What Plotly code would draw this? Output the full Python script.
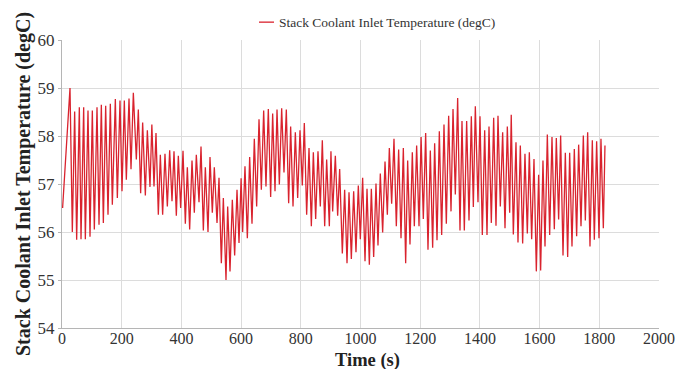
import plotly.graph_objects as go

# Stack coolant inlet temperature log: alternating trough / peak samples
time_s = [
    2.0, 26.8, 34.6, 42.4, 49.1, 58.1, 63.7, 72.6, 78.2, 87.1, 93.8, 101.6,
    108.3, 117.3, 124.0, 131.8, 138.5, 146.3, 154.1, 161.9, 168.6, 178.7,
    185.4, 194.3, 201.0, 208.8, 215.5, 224.5, 231.2, 239.0, 249.0, 255.7,
    263.5, 270.2, 279.2, 285.9, 294.8, 301.0, 308.2, 314.9, 322.7, 329.4,
    337.2, 345.0, 352.9, 360.7, 368.5, 375.2, 383.0, 389.7, 397.5, 405.4,
    413.2, 419.9, 427.7, 435.5, 443.3, 450.0, 459.0, 465.7, 473.5, 480.2,
    489.1, 495.8, 503.6, 510.3, 519.3, 526.0, 533.8, 540.5, 549.4, 555.0,
    562.8, 570.6, 578.4, 586.3, 593.0, 600.0, 605.2, 613.0, 620.9, 628.7,
    636.5, 644.3, 652.1, 660.0, 667.8, 675.6, 683.4, 691.2, 699.0, 705.7,
    713.6, 720.3, 728.1, 735.9, 743.7, 751.5, 759.3, 766.0, 773.9, 781.7,
    789.5, 797.3, 805.1, 811.8, 819.6, 827.5, 835.3, 842.0, 849.8, 857.6,
    865.4, 872.1, 880.0, 886.6, 895.6, 901.0, 906.7, 915.7, 923.5, 930.2,
    939.1, 946.9, 954.8, 961.5, 969.3, 977.1, 984.9, 992.7, 999.4, 1007.2,
    1015.1, 1021.8, 1029.6, 1036.3, 1044.1, 1051.9, 1058.6, 1066.4, 1074.2,
    1082.1, 1089.9, 1096.6, 1104.4, 1112.2, 1120.0, 1127.8, 1135.7, 1143.5,
    1151.3, 1158.0, 1165.8, 1173.6, 1180.3, 1188.1, 1196.0, 1203.0, 1210.5,
    1218.3, 1226.1, 1233.9, 1241.7, 1248.4, 1256.3, 1264.1, 1271.9, 1279.7,
    1287.5, 1295.3, 1303.2, 1309.9, 1317.7, 1325.5, 1333.3, 1340.0, 1347.8,
    1355.6, 1363.5, 1371.3, 1378.0, 1384.7, 1393.6, 1400.3, 1408.1, 1416.0,
    1423.8, 1430.5, 1438.3, 1446.1, 1453.9, 1460.6, 1468.4, 1476.2, 1484.1,
    1491.9, 1499.7, 1505.0, 1512.0, 1520.9, 1527.6, 1535.4, 1543.2, 1551.0,
    1558.9, 1565.6, 1573.4, 1581.2, 1589.0, 1596.8, 1603.5, 1611.3, 1618.1,
    1625.9, 1633.7, 1641.5, 1649.3, 1656.0, 1663.8, 1670.5, 1678.4, 1686.2,
    1694.0, 1700.7, 1708.5, 1716.3, 1724.1, 1730.8, 1738.7, 1746.5, 1753.2,
    1761.0, 1768.8, 1776.6, 1783.3, 1791.1, 1799.0, 1805.6, 1813.5, 1819.0,
]

coolant_inlet_degc = [
    56.50, 59.00, 56.00, 58.51, 55.84, 58.60, 55.85, 58.60, 55.85, 58.53, 55.90, 58.53,
    56.05, 58.60, 56.15, 58.65, 56.19, 58.63, 56.36, 58.67, 56.57, 58.77,
    56.71, 58.74, 56.85, 58.74, 57.09, 58.78, 57.31, 58.90, 57.51, 58.55,
    56.81, 58.28, 56.76, 58.12, 56.94, 58.24, 56.95, 58.06, 56.36, 57.61,
    56.36, 57.63, 56.53, 57.70, 56.64, 57.68, 56.34, 57.59, 56.50, 57.69,
    56.17, 57.35, 56.05, 57.49, 56.40, 57.61, 56.62, 57.78, 56.03, 57.35,
    56.00, 57.56, 56.40, 57.35, 56.19, 57.13, 55.35, 56.71, 55.00, 56.53,
    55.18, 56.67, 55.51, 56.88, 55.77, 57.12, 56.00, 57.37, 55.87, 57.56,
    56.17, 57.94, 56.53, 58.35, 56.88, 58.53, 56.95, 58.56, 56.73, 58.47,
    56.85, 58.55, 56.99, 58.58, 57.24, 58.55, 56.60, 58.20, 56.53, 58.08,
    56.71, 58.12, 56.97, 58.27, 56.36, 57.75, 56.12, 57.66, 56.27, 57.68,
    56.53, 57.91, 56.12, 57.51, 56.12, 57.68, 56.43, 57.59, 56.34, 57.31,
    55.55, 56.88, 55.35, 56.83, 55.44, 56.85, 55.58, 56.97, 55.85, 57.13,
    55.39, 56.90, 55.32, 56.90, 55.48, 57.01, 55.72, 57.22, 55.99,
    57.47, 56.36, 57.75, 56.59, 57.94, 56.12, 57.72, 55.87, 57.75,
    55.35, 57.49, 55.74, 57.66, 56.12, 57.80, 56.12, 57.98, 56.27,
    58.06, 55.63, 57.70, 55.67, 57.85, 55.83, 58.10, 55.94, 58.24,
    56.17, 58.42, 56.43, 58.56, 56.78, 58.79, 56.03, 58.31, 56.03,
    58.31, 56.24, 58.41, 56.52, 58.62, 56.62, 58.41, 55.94, 58.12,
    55.94, 58.20, 56.19, 58.38, 56.13, 58.42, 56.53, 58.08, 56.08,
    58.20, 56.40, 58.44, 55.95, 57.87, 55.78, 57.80, 55.76, 57.63,
    55.97, 57.66, 55.85, 57.52, 55.18, 57.19, 55.20, 57.49, 55.70,
    58.03, 55.94, 57.98, 56.06, 57.96, 56.26, 58.01, 55.51, 57.65,
    55.48, 57.65, 55.70, 57.73, 55.91, 57.82, 56.12, 58.01, 56.24,
    58.08, 55.70, 57.91, 55.84, 57.89, 55.87, 57.94, 56.08, 57.80,
]

x_ticks = [0, 200, 400, 600, 800, 1000, 1200, 1400, 1600, 1800, 2000]
y_ticks = [54, 55, 56, 57, 58, 59, 60]

series_name = "Stack Coolant Inlet Temperature (degC)"
line_color = "#d9232e"
serif = "Liberation Serif"

fig = go.Figure()
fig.add_trace(go.Scatter(
    x=time_s, y=coolant_inlet_degc, mode="lines", name=series_name,
    line=dict(color=line_color, width=1.3), showlegend=False,
))

# Legend key: short line sample and label above the plot
fig.add_shape(type="line", xref="paper", yref="paper",
              x0=(259 - 62) / 597, x1=(274 - 62) / 597, y0=1.062, y1=1.062,
              line=dict(color=line_color, width=1.3))
fig.add_annotation(text=series_name, xref="paper", yref="paper",
                   x=(277 - 62) / 597, y=1.062, xanchor="left", yanchor="middle",
                   showarrow=False, font=dict(family=serif, size=13.5, color="#333333"))

# X-axis title placed just under the tick labels
fig.add_annotation(text="<b>Time (s)</b>", xref="paper", yref="paper",
                   x=(367 - 62) / 597, y=-(360 - 328) / 288,
                   xanchor="center", yanchor="middle", showarrow=False,
                   font=dict(family=serif, size=18.5, color="#222222"))

axis_common = dict(
    showgrid=True, gridcolor="#dcdcdc", gridwidth=1,
    showline=True, linecolor="#b5b5b5", linewidth=1,
    zeroline=False,
)

fig.update_xaxes(range=[0, 2000], tickvals=x_ticks, ticks="", ticklabelstandoff=-4,
                 tickfont=dict(family=serif, size=16, color="#333333"), **axis_common)
fig.update_yaxes(range=[54, 60], tickvals=y_ticks, ticks="outside", ticklen=3,
                 tickcolor="#b5b5b5", tickfont=dict(family=serif, size=17, color="#333333"),
                 **axis_common,
                 title=dict(text="<b>Stack Coolant Inlet Temperature (degC)</b>", standoff=1,
                            font=dict(family=serif, size=20, color="#222222")))

fig.update_layout(
    width=676, height=369,
    margin=dict(l=62, r=17, t=40, b=41, autoexpand=False),
    paper_bgcolor="white", plot_bgcolor="white",
)

fig.write_html("out.html")
